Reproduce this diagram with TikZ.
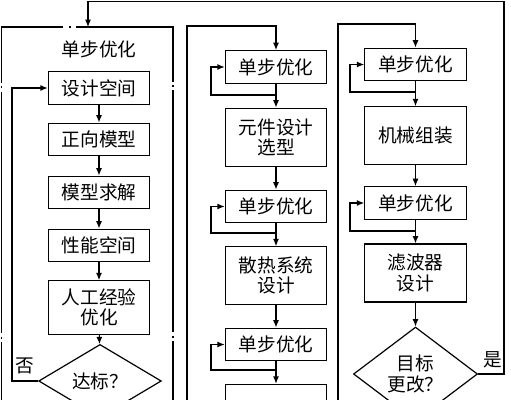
\documentclass[tikz,border=0pt]{standalone}
\usepackage{fontspec}
\newfontfamily\cjk{Noto Sans CJK SC}
\usetikzlibrary{shapes.geometric,arrows.meta}
\begin{document}
\begin{tikzpicture}[x=0.75pt,y=-0.75pt,
 box/.style={draw,line width=0.9pt,minimum width=76pt,minimum height=24.5pt,inner sep=0pt,align=center,font=\cjk\fontsize{14}{15.5}\selectfont},
 dia/.style={draw,line width=0.9pt,shape=diamond,inner sep=0pt,align=center,font=\cjk\fontsize{14}{15.5}\selectfont},
 arr/.style={line width=0.9pt,-{Latex[length=5.5pt,width=4.5pt]}},
 ln/.style={line width=0.9pt},
 lbl/.style={inner sep=0pt,font=\cjk\fontsize{14}{15.5}\selectfont}]
\useasboundingbox (0,0) rectangle (511,400);
\clip (0,0) rectangle (511,400);
\fill[white] (0,0) rectangle (511,400);
% left frame (dash-dot)
\draw[ln] (1.5,83) -- (1.5,27) -- (63,27);
\draw[ln] (76,27) -- (173,27) -- (173,82);
\draw[ln] (69,27) -- (71,27);
\draw[ln] (1.5,86) -- (1.5,88);
\draw[ln] (1.5,92) -- (1.5,333);
\draw[ln] (1.5,336.5) -- (1.5,338.5);
\draw[ln] (1.5,342) -- (1.5,410);
\draw[ln] (173,85) -- (173,87);
\draw[ln] (173,90) -- (173,332);
\draw[ln] (173,335.5) -- (173,337.5);
\draw[ln] (173,341) -- (173,410);
% left column
\node[lbl] (t0) at (99,49) {单步优化};
\node[box] (a1) at (99,88) {设计空间};
\node[box] (a2) at (99,139.5) {正向模型};
\node[box] (a3) at (99,192.5) {模型求解};
\node[box] (a4) at (99,245.5) {性能空间};
\node[box,minimum height=40pt] (a5) at (99,307.5) {人工经验\\优化};
\node[dia,minimum width=92pt,minimum height=39pt] (a6) at (100,381) {达标？};
\draw[arr] (a1) -- (a2);
\draw[arr] (a2) -- (a3);
\draw[arr] (a3) -- (a4);
\draw[arr] (a4) -- (a5);
\draw[arr] (a5) -- (a6);
\coordinate (n1) at (12,381);
\draw[arr] (a6.west) -- (n1) |- (a1.west);
\node[lbl] (no) at (25,366) {否};
% middle column
\node[box] (b1) at (276,67) {单步优化};
\node[box,minimum height=44pt] (b2) at (276,137.5) {元件设计\\选型};
\node[box] (b3) at (276,206.5) {单步优化};
\node[box,minimum height=43pt] (b4) at (276,275.5) {散热系统\\设计};
\node[box] (b5) at (276,344.5) {单步优化};
\node[box,minimum height=43pt] (b6) at (276,413) {};
\coordinate (mb) at (187,420);
\coordinate (mt) at (187,26);
\draw[arr] (mb) -- (mt) -| (b1.north);
\coordinate (j1) at (276,95);
\coordinate (k1) at (211,95);
\draw[ln] (b1.south) -- (j1);
\draw[arr] (j1) -- (b2.north);
\draw[arr] (j1) -- (k1) |- (b1.west);
\draw[arr] (b2) -- (b3);
\coordinate (j3) at (276,233);
\coordinate (k3) at (211,233);
\draw[ln] (b3.south) -- (j3);
\draw[arr] (j3) -- (b4.north);
\draw[arr] (j3) -- (k3) |- (b3.west);
\draw[arr] (b4) -- (b5);
\coordinate (j5) at (276,370);
\coordinate (k5) at (211,370);
\draw[ln] (b5.south) -- (j5);
\draw[arr] (j5) -- (b6.north);
\draw[arr] (j5) -- (k5) |- (b5.west);
% right column
\node[box] (c1) at (415.5,64.5) {单步优化};
\node[box,minimum height=43pt] (c2) at (415.5,135.5) {机械组装};
\node[box] (c3) at (415.5,203) {单步优化};
\node[box,minimum height=43.5pt] (c4) at (415.5,273) {滤波器\\设计};
\node[dia,minimum width=93pt,minimum height=69pt] (c5) at (415.5,374) {目标\\更改？};
\coordinate (rb) at (338,420);
\coordinate (rt) at (338,24);
\draw[arr] (rb) -- (rt) -| (c1.north);
\coordinate (p1) at (415.5,92);
\coordinate (q1) at (350,92);
\draw[ln] (c1.south) -- (p1);
\draw[arr] (p1) -- (c2.north);
\draw[arr] (p1) -- (q1) |- (c1.west);
\draw[arr] (c2) -- (c3);
\coordinate (p3) at (415.5,231);
\coordinate (q3) at (350,231);
\draw[ln] (c3.south) -- (p3);
\draw[arr] (p3) -- (c4.north);
\draw[arr] (p3) -- (q3) |- (c3.west);
\draw[arr] (c4) -- (c5);
% yes loop
\coordinate (yr) at (504,1.5);
\coordinate (yl) at (88,1.5);
\coordinate (ft) at (88,27);
\draw[arr] (c5.east) -| (yr) -- (yl) -- (ft);
\node[lbl] (yes) at (493,360) {是};
\end{tikzpicture}
\end{document}
